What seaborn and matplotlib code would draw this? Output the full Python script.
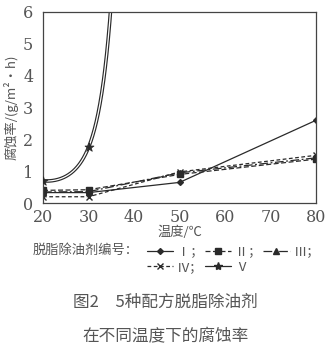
import numpy as np
import pandas as pd
import matplotlib
matplotlib.use("Agg")
import matplotlib.pyplot as plt
from matplotlib.lines import Line2D
from matplotlib.font_manager import FontProperties
import seaborn as sns

sns.set_theme(style="white")
SERIF = ['Liberation Serif', 'DejaVu Serif']
CJK = ['Noto Sans CJK SC', 'DejaVu Sans']
plt.rcParams['font.family'] = SERIF
plt.rcParams['axes.unicode_minus'] = False

# corrosion rate, g/(m^2*h), for the five degreasers
temps = [20, 30, 50, 80]
rate_1 = [0.33, 0.33, 0.65, 2.60]
rate_2 = [0.40, 0.42, 0.90, 1.38]
rate_3 = [0.35, 0.36, 0.95, 1.42]
rate_4 = [0.20, 0.20, 0.98, 1.50]
temps_5 = [20, 30, 40]
rate_5 = [0.70, 1.75, 40.0]

labels = ["Ⅰ；", "Ⅱ；", "Ⅲ；", "Ⅳ；", "Ⅴ"]
x_ticks = [20, 30, 40, 50, 60, 70, 80]
y_ticks = [0, 1, 2, 3, 4, 5, 6]

INK = "#2a2a2a"
TXT = "#555555"
tick_font = FontProperties(family=['DejaVu Serif'], size=11.5)

fig = plt.figure(figsize=(3.31, 3.49), dpi=100)
ax = fig.add_axes([0.130, 0.418, 0.825, 0.548])

styles = [
    (rate_1, "-", "D", 3.0),
    (rate_2, (0, (4, 2)), "s", 4.5),
    (rate_3, (0, (7, 2, 1.5, 2)), "^", 4.0),
    (rate_4, (0, (3, 2)), "x", 4.5),
]
handles = []
for (vals, ls, mk, ms), lab in zip(styles, labels):
    df = pd.DataFrame({"t": temps, "r": vals})
    sns.lineplot(data=df, x="t", y="r", ax=ax, color=INK, lw=0.9,
                 linestyle=ls, marker=mk, markersize=ms, markeredgecolor=INK,
                 markeredgewidth=1.0)
    handles.append(Line2D([], [], color=INK, lw=0.9, linestyle=ls,
                          marker=mk, markersize=ms))

# formulation V rises steeply: smooth curve through its points in log space
lx = np.array(temps_5, float)
ly = np.log(np.array(rate_5))
coef = np.polyfit(lx, ly, 2)
xs = np.linspace(20, 40, 300)
ys = np.exp(np.polyval(coef, xs))
ax.plot(xs, ys, color=INK, lw=2.6, solid_capstyle="butt")
ax.plot(xs, ys, color="white", lw=0.9)
df5 = pd.DataFrame({"t": temps_5, "r": rate_5})
sns.scatterplot(data=df5, x="t", y="r", ax=ax, marker="*", s=45, color=INK,
                edgecolor=INK, linewidth=0.6, zorder=5)
handles.append(Line2D([], [], color=INK, lw=0.9, marker="*", markersize=6))

ax.set_xlim(20, 80)
ax.set_ylim(0, 6)
ax.set_xticks(x_ticks, [str(v) for v in x_ticks], fontproperties=tick_font)
ax.set_yticks(y_ticks, [str(v) for v in y_ticks], fontproperties=tick_font)
ax.tick_params(axis="both", direction="in", length=4, width=0.8, colors="#333333",
               labelcolor=TXT, pad=4)
ax.tick_params(axis="y", pad=7)
for s in ax.spines.values():
    s.set_color("#444444")
    s.set_linewidth(0.9)
ax.set_xlabel("温度/℃", fontsize=9.5, color=TXT, family=CJK, labelpad=0)
ax.set_ylabel("腐蚀率/(g/m²·h)", fontsize=9.5, color=TXT, family=CJK, labelpad=3)

fig.text(0.10, 0.283, "脱脂除油剂编号：", fontsize=9.5, color=TXT,
         family=CJK, va="center")
order = [0, 3, 1, 4, 2]
fig.legend([handles[i] for i in order], [labels[i] for i in order], ncol=3,
           loc="upper left", bbox_to_anchor=(0.42, 0.32), frameon=False,
           prop={'family': CJK, 'size': 9.5},
           handlelength=2.0, handletextpad=0.3, columnspacing=0.1,
           labelspacing=0.2, borderpad=0.1, labelcolor=TXT)

fig.text(0.5, 0.135, "图2　5种配方脱脂除油剂", fontsize=12, color=TXT,
         family=CJK, ha="center", va="center")
fig.text(0.5, 0.035, "在不同温度下的腐蚀率", fontsize=12, color=TXT,
         family=CJK, ha="center", va="center")

fig.savefig("out.png", dpi=100)
